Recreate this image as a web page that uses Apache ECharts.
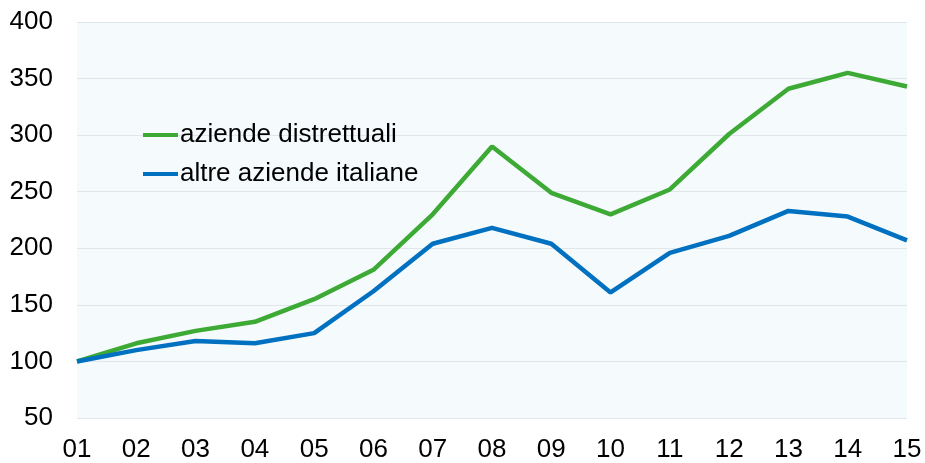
<!DOCTYPE html>
<html>
<head>
<meta charset="utf-8">
<script src="https://cdn.jsdelivr.net/npm/echarts@6/dist/echarts.min.js"></script>
<style>
  html, body { margin: 0; padding: 0; background: #fff; }
  #chart { width: 925px; height: 463px; }
</style>
</head>
<body>
<div id="chart"></div>
<script>
const years = ['01', '02', '03', '04', '05', '06', '07', '08', '09', '10', '11', '12', '13', '14', '15']
const distretti = [100, 116, 127, 135, 155, 181, 230, 290, 249, 230, 252, 301, 341, 355, 343]
const altre = [100, 110, 118, 116, 125, 162, 204, 218, 204, 161, 196, 211, 233, 228, 207]
const names = ['aziende distrettuali', 'altre aziende italiane']

const chart = echarts.init(document.getElementById('chart'))
chart.setOption({
  animation: false,
  grid: {
    left: 77,
    right: 18,
    top: 22,
    bottom: 43,
    show: true,
    backgroundColor: '#F5FAFD',
    borderWidth: 0
  },
  legend: {
    orient: 'vertical',
    left: 143,
    top: 122,
    padding: 0,
    itemWidth: 35,
    itemHeight: 4,
    itemGap: 13,
    icon: 'rect',
    textStyle: { fontFamily: 'Liberation Sans', fontSize: 26, color: '#000', padding: [0, 0, 0, -3] },
    data: names
  },
  xAxis: {
    type: 'category',
    boundaryGap: false,
    data: years,
    axisLine: { show: false },
    axisTick: { show: false },
    splitLine: { show: false },
    axisLabel: { fontFamily: 'Liberation Sans', fontSize: 26, color: '#000', margin: 19 }
  },
  yAxis: {
    type: 'value',
    min: 50,
    max: 400,
    interval: 50,
    axisLine: { show: false },
    axisTick: { show: false },
    splitLine: { lineStyle: { color: '#E1E6EA', width: 1 } },
    axisLabel: { fontFamily: 'Liberation Sans', fontSize: 26, color: '#000', margin: 24 }
  },
  series: [
    {
      name: names[0],
      type: 'line',
      data: distretti,
      symbol: 'none',
      lineStyle: { color: '#3DAA35', width: 4.5 },
      itemStyle: { color: '#3DAA35' }
    },
    {
      name: names[1],
      type: 'line',
      data: altre,
      symbol: 'none',
      lineStyle: { color: '#0070C0', width: 4.5 },
      itemStyle: { color: '#0070C0' }
    }
  ]
})
</script>
</body>
</html>
